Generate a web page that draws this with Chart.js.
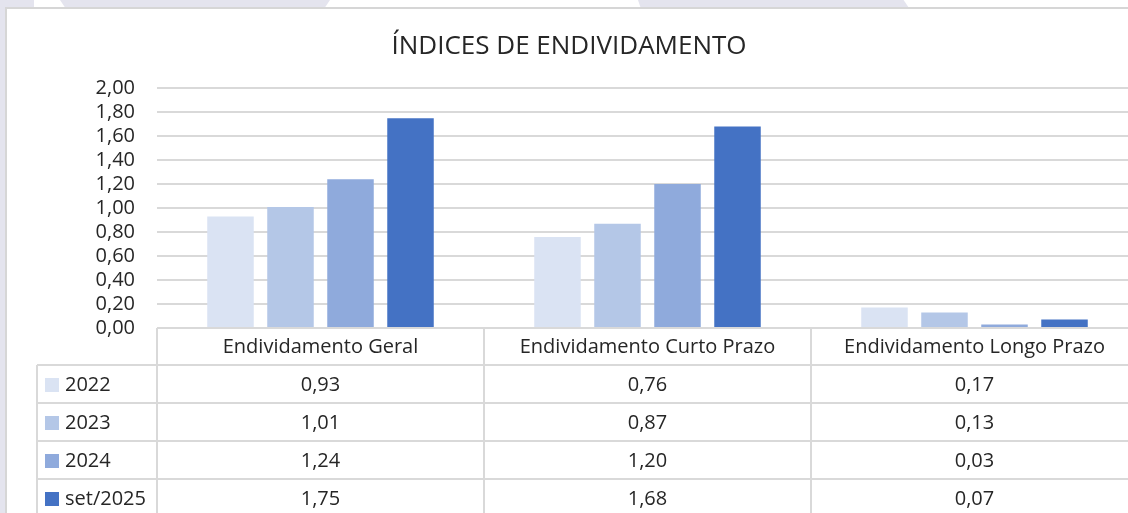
<!DOCTYPE html>
<html>
<head>
<meta charset="utf-8">
<script src="https://cdn.jsdelivr.net/npm/chart.js@4"></script>
<style>
  body { margin: 0; width: 1128px; height: 513px; overflow: hidden; position: relative; background: #ffffff; }
  .cinza { position: absolute; background: #e4e4ee; }
  .moldura { position: absolute; left: 5px; top: 7px; width: 1140px; height: 520px; background: #fff; border-left: 2px solid #d6d6d6; border-top: 2px solid #d6d6d6; }
  #grafico { position: absolute; left: 0; top: 0; }
</style>
</head>
<body>
<!-- fundo da página (faixas cinza atrás do gráfico) -->
<div class="cinza" style="left:0; top:0; width:34px; height:8px;"></div>
<div class="cinza" style="left:60px; top:0; width:270px; height:8px; clip-path: polygon(0 0, 100% 0, 98% 100%, 2% 100%);"></div>
<div class="cinza" style="left:638px; top:0; width:271px; height:8px; clip-path: polygon(0 0, 98% 0, 100% 100%, 1% 100%);"></div>
<div class="cinza" style="left:0; top:0; width:5px; height:513px;"></div>
<div class="moldura"></div>
<canvas id="grafico" width="1145" height="520"></canvas>
<script>
// Dados do gráfico
const categorias = ['Endividamento Geral', 'Endividamento Curto Prazo', 'Endividamento Longo Prazo'];
const anos = ['2022', '2023', '2024', 'set/2025'];
const valores2022 = [0.93, 0.76, 0.17];
const valores2023 = [1.01, 0.87, 0.13];
const valores2024 = [1.24, 1.20, 0.03];
const valoresSet2025 = [1.75, 1.68, 0.07];
const cores = ['#dae3f3', '#b4c7e7', '#8faadc', '#4472c4'];

const series = [valores2022, valores2023, valores2024, valoresSet2025];
const fonte = "'Open Sans', sans-serif";
const corTexto = '#262626';
const corLinha = '#d9d9d9';

// formata número com vírgula
function fmt(v) {
    return v.toFixed(2).replace('.', ',');
}

// Plugin que desenha a tabela de dados embaixo do gráfico
const tabelaDados = {
    id: 'tabelaDados',
    afterDraw(chart) {
        const ctx = chart.ctx;
        const area = chart.chartArea;
        const x = chart.scales.x;
        const largCat = (x.right - x.left) / categorias.length;
        const topo = area.bottom;
        const altCab = 37;
        const altLinha = 38;
        const esq = area.left - 120;
        const fim = topo + altCab + anos.length * altLinha;

        ctx.save();
        ctx.strokeStyle = corLinha;
        ctx.lineWidth = 2;

        // linhas horizontais
        ctx.beginPath();
        ctx.moveTo(area.left, topo);
        ctx.lineTo(x.right, topo);
        for (let i = 0; i <= anos.length; i++) {
            const y = topo + altCab + i * altLinha;
            ctx.moveTo(esq, y);
            ctx.lineTo(x.right, y);
        }
        // linhas verticais
        ctx.moveTo(esq, topo + altCab);
        ctx.lineTo(esq, fim);
        for (let c = 0; c <= categorias.length; c++) {
            const xx = x.left + c * largCat;
            ctx.moveTo(xx, topo);
            ctx.lineTo(xx, fim);
        }
        ctx.stroke();

        ctx.fillStyle = corTexto;
        ctx.font = '20px ' + fonte;
        ctx.textBaseline = 'middle';
        ctx.textAlign = 'center';

        // cabeçalho com as categorias
        categorias.forEach((cat, i) => {
            ctx.fillText(cat, x.getPixelForValue(i), topo + altCab / 2 + 1);
        });

        // linhas de valores
        anos.forEach((ano, s) => {
            const yc = topo + altCab + s * altLinha + altLinha / 2 + 1;
            ctx.fillStyle = cores[s];
            ctx.fillRect(esq + 8, yc - 7, 14, 14);
            ctx.fillStyle = corTexto;
            ctx.textAlign = 'left';
            ctx.fillText(ano, esq + 28, yc);
            ctx.textAlign = 'center';
            series[s].forEach((v, i) => {
                ctx.fillText(fmt(v), x.getPixelForValue(i), yc);
            });
        });
        ctx.restore();
    }
};

const ctx = document.getElementById('grafico').getContext('2d');

new Chart(ctx, {
    type: 'bar',
    data: {
        labels: categorias,
        datasets: anos.map((ano, s) => ({
            label: ano,
            data: series[s],
            backgroundColor: cores[s],
            borderWidth: 0,
            categoryPercentage: 0.734,
            barPercentage: 0.775
        }))
    },
    options: {
        responsive: false,
        animation: false,
        devicePixelRatio: 1,
        layout: {
            padding: { left: 0, right: 7, top: 0, bottom: 192 }
        },
        plugins: {
            legend: { display: false },
            tooltip: { enabled: false },
            title: {
                display: true,
                text: 'ÍNDICES DE ENDIVIDAMENTO',
                color: corTexto,
                font: { family: fonte, size: 26, weight: 'normal', lineHeight: 1.2 },
                padding: { top: 31, bottom: 26 }
            }
        },
        scales: {
            x: {
                display: false
            },
            y: {
                min: 0,
                max: 2,
                afterFit(scale) {
                    scale.width = 157;
                },
                border: { display: false },
                grid: {
                    color: corLinha,
                    lineWidth: 2,
                    drawTicks: false
                },
                ticks: {
                    stepSize: 0.2,
                    autoSkip: false,
                    padding: 22,
                    color: corTexto,
                    font: { family: fonte, size: 20, lineHeight: 1 },
                    callback: (v) => fmt(v)
                }
            }
        }
    },
    plugins: [tabelaDados]
});
</script>
</body>
</html>
